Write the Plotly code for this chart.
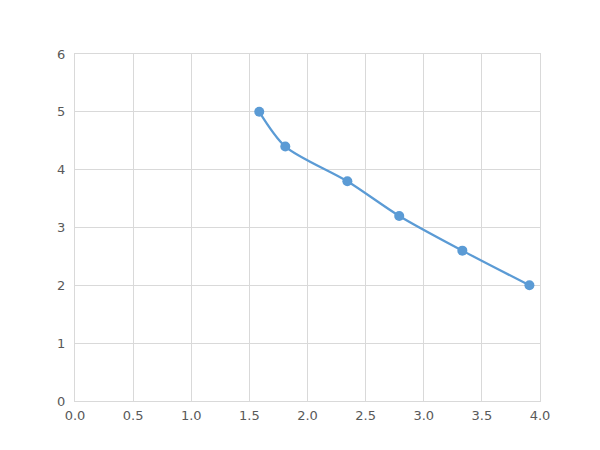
import plotly.graph_objects as go

x_vals = [1.585, 1.809, 2.343, 2.789, 3.332, 3.909]
y_vals = [5.0, 4.4, 3.8, 3.2, 2.6, 2.0]

fig = go.Figure()
fig.add_trace(go.Scatter(
    x=x_vals, y=y_vals, mode="lines+markers",
    line=dict(color="#5B9BD5", width=2.25, shape="spline", smoothing=0.8),
    marker=dict(color="#5B9BD5", size=10),
    showlegend=False,
    cliponaxis=False,
))

axis_common = dict(
    showgrid=True, gridcolor="#D9D9D9", gridwidth=1,
    showline=True, linecolor="#D9D9D9", linewidth=1, mirror=True,
    zeroline=False, ticks="", automargin=False,
    tickfont=dict(family="DejaVu Sans", size=13, color="#595959"),
)
fig.update_layout(
    width=600, height=450,
    margin=dict(l=67, r=68, t=46, b=57),
    paper_bgcolor="white", plot_bgcolor="white",
    xaxis=dict(range=[0, 4], dtick=0.5, tickformat=".1f", ticklabelstandoff=2, **axis_common),
    yaxis=dict(range=[0, 6], dtick=1, ticklabelstandoff=6, **axis_common),
)
fig.write_html("out.html")
